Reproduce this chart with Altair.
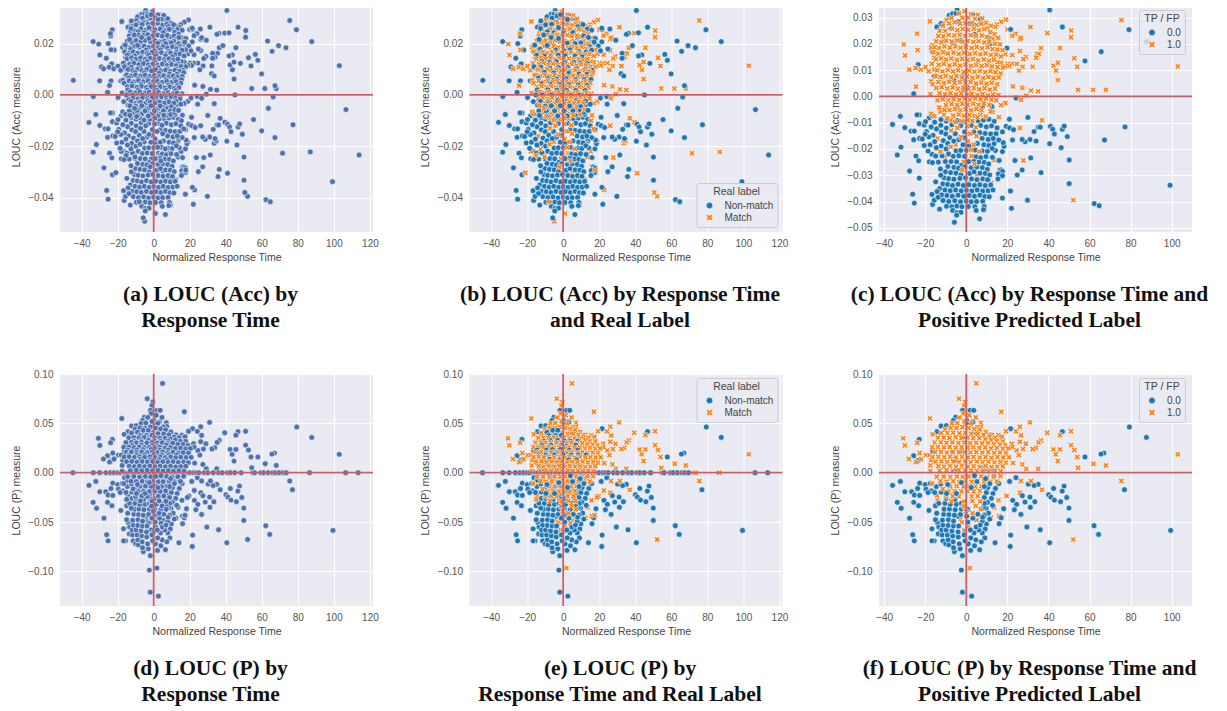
import altair as alt
import pandas as pd

# (x = normalized response time, y = measure in thousandths)
ACC_TP = [(19.3,29.2),(17,28.4),(14.9,27.4),(14.1,26.5),(31.2,26.4),(20,25.5),(39.4,24.1),(51.1,25.1),(51,22.5),(24,23.9),(22.4,23.1),(26.1,21.7),(26.6,22.3),(36.4,18.4),(45.6,18.4),(26.1,17.3),(19,16),(22.4,15.7),(34.4,16.2),(35.4,16.2),(34,14.7),(29,15),(27.8,14.2),(52.6,14.5),(42.4,11.7),(44.6,12.8),(54,11.3),(43.7,9.8),(32.3,11.3),(27.4,11.3),(25.6,9.8),(24.5,12.4),(22.2,12.4),(20.1,12.4),(21,11.5),(19,11.5),(16.9,12.8),(15.3,13),(44.6,6.2),(22.7,3.8),(27.3,3.3),(31.5,2.2),(35,1.9),(54.4,2.5),(61.7,2.5),(68,2.5),(29.2,0.3),(26.6,-1.3),(19,-2.5),(16.9,-3.3),(12.8,-6),(15.9,-7.9),(36.9,-9.1),(26.1,-12),(27.8,-24.4),(13.5,-24.2),(16,-28),(12.2,-32.9),(52.1,-39.5),(75.5,29),(103,11.4),(-17.7,28.6),(-24,23.9),(-30.5,19.8),(-29.9,15.6),(-23.7,17.6),(-27.8,10.2),(-24.7,10.8),(-22.2,10.2),(-19.8,11.2),(-18.3,9.6),(-24.5,3.7),(-16.4,19.5),(-17.2,18.5),(-17.5,0.8),(-17.2,5.8),(-16.4,4.6),(-15.6,10.3),(-15.6,14.7),(-14,-1.5),(-17.2,-6.6),(-15.6,-7.5),(-12.7,-5.8),(-14,-16),(-10.4,-23),(-5.2,-18.3),(-1.3,-24.9),(2.6,-22.7),(0.6,-32.9),(5.2,-29.7),
(-3.5,31.6),(-0.8,32.4),(2.3,31.2),(5.6,31),(7.8,29.7),(-7.2,29.8),(-9.6,29),(-1.9,29.9),(1,30),(4.2,29.5),(9.6,28),(12,26.9),(-11.3,26.9),(-8.4,27.8),(-5.7,28.2),(-3,27.6),(-0.5,27.9),(2.4,28),(5,27.2),(7.3,27.6),(10.2,26),(-13,25),(-10.3,24.9),(-7,25.8),(-4.4,25.2),(-1.7,25.7),(0.9,25.3),(3.7,25.7),(6.2,25.1),(8.7,25.6),(11.6,24.4),(13.8,23.7),(-13.6,23),(-11.1,22.8),(-8.6,23.4),(-5.8,23.2),(-3.2,23.5),(-0.6,23),(2.2,23.3),(4.8,22.9),(7.6,23.2),(10,22.6),(12.9,21.9),(15.5,22.3),(-14.7,21),(-12.2,20.6),(-9.7,21.2),(-7.1,20.9),(-4.6,21.3),(-1.8,20.8),(0.7,21.1),(3.4,20.7),(6,21),(8.8,20.5),(11.2,20.9),(13.9,20),(16.4,19.8),(-15.4,18.7),(-13.2,18.4),(-10.6,19),(-8,18.6),(-5.3,19),(-2.8,18.5),(-0.2,18.9),(2.6,18.4),(5.1,18.8),(7.7,18.3),(10.4,18.7),(12.8,18),(15.2,17.8),(17.7,17.6),(-16.1,16.8),(-13.7,16.2),(-11.3,16.8),(-8.9,16.3),(-6.2,16.7),(-3.6,16.2),(-1,16.6),(1.7,16.1),(4.3,16.5),(6.9,16),(9.4,16.4),(12,15.8),(14.6,15.9),(16.9,15.2),(-14.8,14.1),(-12.3,14.5),(-9.8,14),(-7.3,14.4),(-4.6,13.9),(-2,14.3),(0.6,13.8),(3.2,14.2),(5.8,13.7),(8.5,14.1),(11,13.6),(13.4,14),(-16.8,12.4),(-13.4,12),(-10.9,12.4),(-8.2,11.8),(-5.6,12.2),(-3,11.7),(-0.4,12.1),(2.2,11.6),(4.8,12),(7.4,11.5),(10,11.9),(12.5,11.4),(15.2,11.1),(17.8,11),(-14.2,9.9),(-11.6,9.5),(-9,10),(-6.5,9.5),(-3.9,9.9),(-1.2,9.4),(1.4,9.8),(4,9.4),(6.6,9.7),(9.2,9.2),(11.8,9.6),(14.2,9.2),(16.7,8.7),(-15,7.8),(-12.5,7.4),(-10,7.8),(-7.4,7.3),(-4.8,7.7),(-2.2,7.2),(0.4,7.6),(3,7.1),(5.6,7.5),(8.2,7),(10.8,7.4),(13.3,7),(15.8,7.2),(-13.6,5.5),(-11,5.1),(-8.4,5.6),(-5.7,5.1),(-3.1,5.5),(-0.5,5),(2.1,5.4),(4.7,4.9),(7.3,5.3),(9.9,4.8),(12.4,5.2),(15,4.6),(-14.6,3.2),(-12,3.5),(-9.3,3),(-6.7,3.4),(-4.1,2.9),(-1.5,3.3),(1.1,2.8),(3.7,3.2),(6.3,2.7),(8.9,3.1),(11.5,2.6),(14,2.9),(-13,1.2),(-10.3,0.8),(-7.7,1.2),(-5,0.7),(-2.5,1.1),(0.2,0.6),(2.8,1),(5.4,0.5),(8,0.9),(10.6,0.4),(13,0.8),(15.6,0.5),(-11.4,-1.1),(-8.7,-1.5),(-6.1,-1),(-3.4,-1.4),(-0.8,-0.9),(1.8,-1.3),(4.4,-0.8),(7,-1.2),(9.6,-0.8),(12.2,-1.2),(14.6,-1.5),(-9.9,-3.3),(-7.2,-2.9),(-4.5,-3.3),(-1.9,-2.8),(0.7,-3.2),(3.4,-2.8),(6,-3.2),(8.6,-2.7),(11.2,-3.2),(-8.2,-5.2),(-5.5,-4.8),(-2.9,-5.3),(-0.3,-4.9),(2.4,-5.3),(5,-4.8),(7.4,-5.3),(-10.8,-7),(-6.4,-7.3),(-3.7,-6.9),(-1.1,-7.4),(1.5,-7),(4.1,-7.4),(6.8,-7),(-7.5,-9),(-2.2,-9.4),(3,-9.3),(0.5,-11.3),(4.6,-11.8),(-4.4,-12),(-7.3,-13),(1.9,-14.2),(5,-15.1),(-2.6,-15.4),(0.8,-17.1),(3.6,-18.4),(-7.6,-19.2),(-12.6,-21),(2.2,-20.4),(6.4,-21),(4,-25.7),(-2,-28),
(-9.4,-8.4),(-5.4,-9.8),(0.6,-9),(5.6,-7.9),(9.4,-7.6),(11.8,-5.7),(-13.2,-4.2),(-10.6,-5.2)]

ACC_FP = [(40.6,32.9),(46.8,26.4),(79.2,25.4),(87.7,20.8),(65.7,17),(57.8,13.5),(21.6,25.5),(11.4,22.1),(19.8,18.4),(11.5,19.8),(4.1,23.6),(3.1,31.2),(-4.5,32.9),(-8.3,30.8),(-6.6,31.5),(-5,31.6),(6.8,29.3),(3.4,27.4),(1.5,27.7),(-3.9,28.4),(-7.5,25.9),(-11.5,27.7),(-14.3,26.4),(-12.3,27.7),(-2.9,21.3),(-6.3,20.2),(-10.7,21),(-16.4,17),(-23.4,12.1),(-15.6,7.7),(-1.3,8.6),(-1.3,6.5),(-6,6.2),(-1.6,2.5),(0.8,3.3),(-25.6,1),(2.3,0.8),(24.2,-0.6),(-4.5,-3.9),(7.8,-3.9),(12.5,-3.9),(-22.9,-7),(-24,-7),(-32.1,-7.6),(-35.9,-10.7),(-29.9,-11.9),(-26.9,-13.2),(-25.3,-13.2),(-22.9,-10.4),(-20.5,-10.9),(-18,-8.1),(-16.4,-7.4),(-12.3,-8.8),(-31.8,-19.3),(-33.6,-22.3),(-24.5,-22.7),(-23.2,-24.5),(-27.6,-28.4),(-22.9,-31.1),(-26.1,-37.2),(-25.3,-40.6),(-25.6,-16.5),(-22.7,-16),(-20.5,-18.7),(-18,-24.9),(-16.7,-22),(-14.9,-22.7),(-13.6,-25),(-14.9,-32.5),(-16.7,-37.3),(-16.4,-41.1),(-15.6,-39.5),(-13,-42.9),
(40.6,-18),(41,-11.4),(42.1,-12.5),(42.9,-14.3),(46.8,-12.5),(47.7,-11.3),(49.2,-15.3),(46.2,-19.5),(50.1,-24.2),(50.1,-33.2),(62.3,-40.8),(64.7,-41.6),(99.2,-33.8),(77.3,-11.6),(67.3,-16.6),(36.4,-29),(29.8,-39.5),(22,-42.6),(21.5,-36),(17.6,-38.7),(31.4,-23.4),(27.2,-28),(24.8,-29.9),(23.7,-24.4),(34,-17),(31,-16.4),(28.6,-17.3),(27.2,-16.4),(22.5,-16.6),(33,-13.4),(35.1,-11.7),(36,-11.7),(30,-8),(21,-8.7),(19.4,-11.4),(21.1,-12),(23,-12.7),(17.6,-13.5),(16.8,-28),(17.6,-28.5),(15.6,-29.5),(17.6,-30.2),(15.4,-31.4),(16,-24.4),(17.6,-21),(18.4,-19),(18,-17.6),(15.8,-16.6),(13.5,-18),(14.2,-20.6),
(-4.3,-9.2),(-1,-9.6),(1.2,-8.8),(5.8,-9.3),(8.4,-9),(11,-8.7),(13.6,-9.5),(-15.4,-9.8),(-9.8,-9.4),(-7,-10.8),(-12.4,-11),(-14.5,-12.4),(-17.1,-11.6),(-9.7,-12.1),(-2.7,-11.1),(2.5,-11),(7,-11),(9.8,-11.6),(12.3,-11.2),(15,-12),(-12.1,-13.6),(-10,-14.3),(-5.4,-14.2),(-0.8,-13.5),(3.7,-13.5),(6.6,-13.8),(9.2,-14.1),(11.9,-14.3),(14.5,-14.2),(-16.2,-14.8),(-8,-15.7),(-3.7,-16.4),(-0.9,-15.8),(7.7,-16),(10.7,-16.4),(13.1,-16),(-11.2,-16.8),(-9,-17.9),(-6.1,-17),(-1.6,-18.4),(1.4,-18.8),(5.4,-17.9),(8.6,-18.4),(11,-18.7),(-12.3,-18.9),(-9.8,-20),(-5,-20.7),(-2.7,-20.6),(0.1,-20.5),(4.3,-20.4),(7.8,-20.7),(10.3,-20.9),(12.6,-19.8),(-11.8,-22.6),(-8.6,-21.9),(-6.3,-22.8),(-3.6,-22.6),(-0.8,-22.8),(4.8,-23),(7,-23.3),(9.6,-22.9),(12.7,-23.2),(-10.2,-24.8),(-7.4,-24.8),(-4.7,-24.9),(-2.4,-26.3),(1.2,-24.8),(3.7,-24.7),(6.1,-25),(8.7,-25.1),(10.9,-25.7),(-9,-26.7),(-6,-27),(-3.8,-27.3),(-0.7,-26.8),(2.4,-27.1),(5.1,-26.9),(7.8,-27.1),(10.2,-27.8),(-10.1,-28.7),(-7.6,-29),(-5,-29.2),(-2.6,-29.9),(1.7,-29.3),(3.8,-28.7),(6.7,-29.2),(9.2,-29.3),(11.4,-29.9),(-10.7,-31),(-8.6,-31.3),(-6,-31.5),(-3.1,-31.2),(-0.4,-31),(2.6,-31.4),(5.2,-31.7),(8,-31.4),(10.4,-31.7),(-11.4,-33.3),(-9.1,-33.5),(-6.7,-33.9),(-4,-33.4),(-1.4,-33.9),(1.3,-33.6),(4,-33.9),(6.6,-33.6),(9.2,-33.9),(11.9,-33.7),(-13,-35.1),(-10.4,-35.6),(-7.8,-35.9),(-5.2,-35.6),(-2.5,-36),(0.1,-35.7),(2.7,-36),(5.3,-35.6),(8,-36),(10.6,-35.9),(13,-35.6),(-12,-37.5),(-9.4,-37.7),(-6.8,-38),(-4,-37.6),(-1.2,-38),(1.4,-37.7),(4,-38),(6.6,-37.6),(9,-38.1),(11.2,-38.2),(-11.3,-39.6),(-8.5,-40),(-5.6,-39.7),(-2.8,-40.1),(0,-39.8),(2.4,-40.1),(5,-40),(8,-39.9),(-9.6,-41.8),(-7,-42),(-4.6,-41.7),(-2.1,-42),(1,-41.9),(4.2,-42),(8.7,-41.9),(-6.6,-43.4),(-4.6,-44.2),(-2.6,-44.1),(4.8,-43.4),(8.4,-43.1),(-4.7,-45.2),(-5.8,-47.9),(6.5,-46.6),
(-19.4,-13.4),(-18.2,-15.4),(-17.6,-18.4),(-15.4,-17.2),(-14.6,-19.5),(-18.6,-20.8),(-20,-14.4),(-21.4,-16.2),(-19.8,-9.6),(-16.5,-25.2),(-12.6,-27.6),(-12.4,-30),(-13.7,-38.4),(-14.2,-36.2)]

ACC_TN = [(-23,25.4),(-23.8,23),(-33.6,20.8),(-25.2,20),(-21.9,17.5),(-26.3,14.3),(-29,10.9),(-23.1,12.2),(-30,5.5),(-23.7,5.5),(-44.6,5.7),(-25.7,1),(-33.5,-0.6),(-18.3,5.5),(-19.8,-1),(25.9,25.7),(21.4,26),(41.8,24.2),(36.2,24),(35.1,23.6),(29.2,21.3),(38.4,19.2),(63.2,21),(69.3,19.2),(73.4,18.4),(56.4,15.8),(32.7,16.2),(32.7,14.3),(59.9,8.2),(32.1,8.3),(33.6,7.4),(67.3,3.6),(45.1,0),(66.3,-0.8),(33.6,-3.4),(24.4,-3.6),(20.7,-1.2),(48.1,12.3),(43.6,15.6),(41.8,15.2),(21.4,20.7),(19.4,19.1),(20.7,17.2),(24.8,17.9),(15.2,20.4),(106.7,-5.7),(114,-23.4),(55.4,-9.6),(59.9,-14),(35.7,-31.8),(63.6,-5.2),
(-9,30.4),(-6.2,29.9),(-3.4,30.8),(-12.4,28.8),(-9.8,27.3),(-6.4,27.5),(-1.5,31.3),(2.4,29.4),(8.2,26.6),(11,27.4),(13.3,25.6),(15.8,25.2),(-12.6,25.9),(-8.7,24.6),(-5.3,24.2),(-2.6,26.2),(0.2,24.2),(5.4,24.3),(8,22.5),(11.4,23),(14,22.4),(17.8,22),(-13.4,21.6),(-10.8,23.4),(-6.7,22.4),(-2.6,22),(2.2,20.2),(6.6,20),(9.8,20.3),(14.6,18.8),(17.2,20.6),(-15.8,19.4),(-12.8,17.8),(-8.9,19.3),(-4.2,17.5),(0.4,17.2),(3.8,17.6),(8.7,17),(12.6,16.7),(15.8,17.4),(-14.7,15.5),(-10.5,15.2),(-6.9,14.9),(-2.7,15.5),(1.4,15.2),(6.6,15.2),(10.4,14.9),(13.4,12.4),(-11.7,13),(-7.4,12.7),(-3.8,13),(0.9,12.6),(5.9,12.7),(9.4,12.5),(-16.2,11),(-12.4,10.8),(-7.4,10.4),(-2.6,10.6),(2.6,10.6),(7.5,10.2),(12.6,10),(16.2,9.6),(-10.4,8.8),(-5.2,8.6),(3,8.5),(8.8,8.2),(13,8.1),(-13.8,6.6),(-8.6,6.4),(-3.4,6.2),(1.7,6.3),(6.9,6),(11.7,6),(15.4,6),(-12,4.4),(-7,4.2),(-2,4.1),(3.2,4),(8.3,3.9),(13.2,3.7),(-14.4,2),(-8.5,2),(-3.4,1.9),(1.9,1.8),(7,1.8),(12.2,1.7),(-15.2,0),(-11.7,0),(-6.4,0),(-1.3,-0.2),(4,-0.2),(9,-0.1),(14.7,-0.4),(-16.6,-2.6),(-12.6,-2.5),(-8,-2.6),(-3,-2.2),(2,-2.4),(7.4,-2.2),(12.4,-2.4),(-14.2,-4),(-10,-4.4),(-6.6,-4.2),(-1.6,-4.2),(3.6,-4.3),(9.8,-4.6),(15,-3.6),(-13.5,-6.2),(-9.3,-6.4),(-4.8,-6.2),(0.4,-6.2),(5.4,-6.2),(9.2,-6.3),(12,-7.6),(-13.2,-8),(-8.8,-8.1),(-3,-8.2),(2.2,-8.2),(7,-8),(11.6,-6.8),(13.8,-6)]

ACC_FN = [(86.9,-22.2),(71.5,-22.7),(63.8,-5.3),(39.5,-10.6),(41,-30.5),(22.7,-37),(33.6,-18.8),(34.6,-17.9),(50.6,-38),(-21,-30.3),(-18,-22),(19,-18.4),(15.2,-22),(12.5,-18.8),(8.8,-21.6),(11.4,-33),(8.8,-32.6),(-2.5,-37.2),(3.7,-23.3),(0.8,-29.8),(-6.8,-27.6),(9.3,-42.9),(0.9,-46.2),(-5,-49.2),(-10.4,-24.2),(-15.3,-23.6),(16.7,-13.2),(15.4,-10),(17.8,-29.3),(-8,-41.6)]

P_TP = [(4.9,90.5),(-3.6,75),(-0.5,71.6),(-1,68),(17,61.8),(-17.7,55),(31,51),(26.1,46.6),(19.3,42),(51,42),(39.4,40.5),(45.6,38),(-30.7,34.8),(-29.9,27.7),(-23.9,30.4),(-22.7,20),(-27.9,13.9),(-24.5,10.8),(-22,13.9),(-19.6,17.9),(-18,17.9),(-16.4,38.9),(-17.2,12.5),(-17.5,1.7),(-17.5,7.4),(51,28),(52.6,23),(54,15.9),(54.4,5),(61.9,9.1),(68,7.4),(75.5,-8.4),(103,18.6),(42.4,23.6),(43.5,18.6),(45.6,23.6),(44.6,11.8),(36.4,32.8),(35.2,30.7),(33.9,25.3),(32.3,24),(29.2,4),(35,4),(27.3,8.4),(22.7,9.8),(25.6,17.9),(27.6,24),(24.5,22.6),(22.1,29.4),(22.4,26),(26.6,37.8),(26.1,31.4),(24.2,41.9),(29,29.4),(26.6,-8.4),(31.5,-8.4),(36.9,-17.2),(26.1,-20.3),(19.6,-23.6),(15.7,-28),(13.5,-35),(12,-45.6),(15.9,-43.9),(52.1,-67.6),(1.8,-96.6),(-1,-58.4),(-2.9,-47),(-14.3,-23),(-14,-28),(-10.7,-33),(-2.2,-50.2),(5,-48),(1,-54.6),
(-1.5,60),(-3.3,56),(1.4,58.2),(4.6,56),(7,50.6),(7.2,47),(-7,50),(-4.4,50.4),(-1,52),(2.3,50),(5.4,46.4),(-10.3,44),(-7.6,45.4),(-4.8,45.2),(-1.9,46.3),(1.2,45.2),(3.8,44.4),(6.6,43.4),(9.5,41.4),(12.4,38.4),(15.6,38),(17.4,36.4),(-12.2,40.2),(-9.2,40.4),(-6.4,40.6),(-3.4,40),(-0.6,40.4),(2.4,39.6),(5.6,39.2),(8.4,38.4),(11.3,36.2),(14,35.6),(-13.8,35.4),(-11,35.6),(-8.2,35.2),(-5.2,35.8),(-2.4,35.2),(0.6,35.6),(3.4,35),(6.3,34.8),(9.2,34.2),(12,33.2),(14.8,32),(17.8,31.8),(-15.4,30.6),(-12.4,30.8),(-9.6,30.2),(-6.8,30.8),(-3.8,30.2),(-1,30.6),(1.9,30),(4.8,30.4),(7.7,29.6),(10.6,30),(13.4,28.8),(16.3,28.6),(19,27.6),(-16.6,25.8),(-13.8,26),(-10.9,25.4),(-8.1,26),(-5.2,25.4),(-2.3,25.8),(0.6,25.2),(3.4,25.8),(6.3,25),(9.2,25.6),(12,24.6),(14.9,25),(17.8,24.2),(20.4,24.6),(-15.2,20.8),(-12.3,21),(-9.5,20.4),(-6.6,21),(-3.7,20.4),(-0.8,21),(2,20.4),(4.9,21),(7.8,20.2),(10.7,20.8),(13.6,20),(16.4,20.4),(19.3,19.8),(-16.4,16),(-13.6,16.2),(-10.7,15.6),(-7.9,16.2),(-5,15.6),(-2.1,16.2),(0.8,15.4),(3.6,16),(6.5,15.4),(9.4,16),(12.2,15.2),(15.1,15.8),(18,15.4),(20.8,15.6),(-15,11.2),(-12.1,11.4),(-9.3,10.8),(-6.4,11.4),(-3.5,10.8),(-0.6,11.4),(2.2,10.6),(5.1,11.2),(8,10.6),(10.8,11.2),(13.7,10.4),(16.6,11),(19.2,10.2),(-13.6,6.6),(-10.8,6.2),(-7.9,6.8),(-5,6.2),(-2.1,6.8),(0.8,6),(3.6,6.6),(6.5,6),(9.4,6.6),(12.2,5.8),(15.1,6.2),(17.8,6.6),(-13,2),(-9.6,2.6),(-6.6,2),(-3.6,2.6),(-0.6,2),(2.4,2.4),(5.2,1.8),(8.2,2.2),(11,1.6),(14,2),(16.8,1.6),(-14.4,-4),(-11,-3.8),(-7.8,-4.4),(-4.6,-3.8),(-1.7,-4.2),(1.2,-3.8),(4.2,-4.4),(7.2,-3.8),(10.2,-4.4),(13.4,-4),(16.6,-3.6),(-12.6,-8.6),(-9.6,-9),(-6.4,-8.6),(-3.4,-9.2),(-0.4,-8.8),(2.6,-9.2),(5.6,-8.6),(8.6,-9),(11.6,-9.2),(14.8,-8.8),(-16.6,-11),(-7.8,-14),(-4.6,-13.6),(-1.4,-14),(1.4,-13.6),(4.4,-14),(7.4,-13.6),(-11.4,-16.4),(-8.6,-19),(-5.6,-18.6),(-2.4,-19),(0.6,-18.6),(3.6,-19),(6.6,-18.4),(-10,-24),(-6.6,-23.6),(-3.6,-24),(2.6,-24),(5.6,-23.6),(-7.4,-28.6),(-1,-29),(3,-28.6),(6.8,-29),(-1.2,-34),(4.6,-33.6),(-0.2,-39),(3,-41),(7,-37)]

P_FP = [(79.4,46.3),(87.7,35.8),(46.8,41.6),(21.6,44.6),(99.5,-58.4),(77,-17.2),(67,19.9),(65.6,18.9),(57.8,15.9),(-22.9,33.8),(-25.6,17.2),(-23.4,12.5),(-16.4,22),(-14.3,41.6),(-12.3,47.3),(-9.7,47.6),(-1.8,63.2),(1.9,63.2),(3.6,63.2),(-5.2,56.4),(-6.2,53),(0.2,53),(0.2,49.7),(3.2,51.4),(5,40.2),(11.7,38.2),(-1.8,35.5),(-6.7,21),(-2.9,22),(-6.2,13.2),(-4.9,13.2),(-4.9,4),(7.8,4),(9.9,4),(12.5,4),(24.2,-5),(21.1,-8.8),(30.2,-11.5),(35,-11.8),(33,-13),(47.6,-13.5),(42.5,-15.9),(46.7,-18.6),(40.1,-22.3),(41.2,-24.7),(42.9,-27.7),(45.9,-29.4),(48.9,-25),(50,-35.8),(50,-48.3),(27.3,-23.3),(31,-24.7),(22.6,-28),(24.5,-32),(28.6,-29.7),(33.4,-29.4),(31.2,-35),(23.4,-37.5),(26.6,-42.2),(18.2,-36.5),(17,-45.6),(16,-51.7),(29.5,-55),(36,-57.8),(21.6,-63.2),(21.4,-74.7),(14,-70.9),(40.6,-70.9),(62.2,-53.7),(64.4,-62.5),(6.5,-78),(2.1,-78.7),(-1.9,-84),(-2.4,-98.6),(-1.9,-121),(2.6,-125),(-5.8,-80),(-26.1,-62.8),(-25.3,-69),(-27.6,-46),(-31.7,-36),(-33.6,-30),(-32.1,-8.8),(-35.9,-12.8),(-29.9,-19.3),(-26.6,-19.3),(-25.3,-22.6),(-25.6,-30),(-23.2,-33.4),(-22.7,-23),(-22.7,-10.5),(-23.7,-16),(-16.7,-56.8),(-15.6,-69),(-16.7,-69),(-14,-50.7),(-18.2,-38.2),
(-20,-12),(-17.5,-10.8),(-19.6,-16.6),(-17,-18.4),(-14.6,-14),(-12.4,-11.4),(-15.4,-20),(-18.6,-20),(-12.2,-19.6),(-15,-33.4),(-13.4,-31),(-14.4,-41),(-15,-47.6),(-13.4,-55),(-13.6,-62),(-11.4,-69),(-10,-72),(-8.5,-73),(13.5,-3.6),(15.8,-11),(14.2,-16),(13,-21),(12.2,-26),(10.4,-30),(12.8,-33),(9.6,-36),(10.8,-41),(8.8,-43),(11.4,-47),(9.8,-52),(7.8,-49),(9.2,-57),(7.8,-61),(9,-66),(7.3,-70),(4,-74),(1,-72),(4.7,-68),(-3,-77),(-6.2,-76),(-8.8,-68),(-6.4,-70),(-3.4,-72),(-0.6,-69),(2.2,-66),(-11.8,-63),(-9.2,-63),(-6.6,-64),(-3.9,-65),(-1,-63),(3.8,-61),(6.2,-58),(-12,-58),(-9.8,-58),(-7,-59),(-4,-60),(2,-58),(4.8,-55),(-11.4,-53),(-8.8,-53.4),(-6.2,-54),(-3.7,-54),(6.8,-53),(-11.6,-48),(-8.7,-47.6),(-6.2,-49),(-4.2,-44),(0.8,-50),(3.2,-46),(8,-45),(-11,-42),(-8.4,-42.4),(-5.8,-43),(-2.8,-42.2),(0.2,-44),(5.6,-42),(-10.8,-37),(-8.2,-36.8),(-5.4,-37.4),(-2.4,-36.8),(0.6,-37),(8.4,-35),(-10.4,-31),(-7.8,-32),(-4.8,-32),(-2.4,-31),(8.9,-31),(-9.8,-26),(-5.6,-27),(8.8,-25),(9.8,-20),(10.5,-15),(11.5,-11),(8.8,-14),(2.4,-15),(-9.6,-21),(-4.8,-21),(-2.4,-10),(-9,-12),(5.2,-9),(4,-3),(9.4,-6)]

P_TN = [(-36,-13),(-44.8,0),(-33.5,0),(-30,0),(-26.5,0),(-24,0),(-22,0),(-20,0),(-18.5,0),(-16,0),(-14,0),(-12,0),(-10,0),(-8,0),(-6,0),(-4,0),(-2,0),(0,0),(2,0),(4,0),(6,0),(8,0),(10,0),(12,0),(14,0),(16,0),(18,0),(20,0),(22,0),(23.5,0),(25,0),(28,0),(30,0),(33,0),(36,0),(38,0),(41,0),(42.5,0),(45,0),(48.5,0),(55,0),(56,0),(59.5,0),(61,0),(63.5,0),(66,0),(67.5,0),(69.5,0),(106.5,0),(113.5,0),
(-9,41),(-5.8,43),(-3,43),(-7.8,37.6),(-4.2,37.8),(-1,38),(-11,32),(-7,32.6),(-3,32.8),(0.6,32),(4,32),(8,32),(-12,27.6),(-6.8,28),(-1,27.6),(2,27),(7,28),(-14.4,23),(-9.4,23),(-6,23.4),(-1.4,23.6),(3.4,23),(8,23),(-13.6,18.4),(-9.6,18),(-5,18),(0,18.4),(4.4,18),(8.4,18),(12.6,18),(-11,13.4),(-7.4,13.6),(-1.8,13),(3,13),(7.4,13),(-14,8.6),(-8.6,8.4),(-3.4,8.2),(1.8,8.6),(7,8.2),(-11.5,4),(-6.4,4),(-1.4,4.6),(3.6,4.2),
(-16.2,-5),(-11.4,-6),(-5.6,-6),(-1.6,-6.4),(3.2,-6.2),(7.6,-6.4),(12,-6.8),(-14.4,-8),(-7.4,-11.4),(-2.7,-12),(0.6,-11.4),(3.6,-11),(6.4,-11.6),(-10,-16),(-5.4,-16),(-0.4,-16),(5,-16),(8.4,-17),(-7.4,-21.6),(-2.2,-21.6),(2,-21),(7,-21),(-12,-26),(-7.6,-26),(-2,-26.4),(1.2,-26.4),(6.4,-26),(-12.4,-36),(-1,-30),(1.4,-32),(5,-31),(7,-34),(4,-37),(1.4,-42),(-1,-46)]

P_FN = [(71.5,0),(86.5,0),(73.5,0),(-6.2,-33),(-11.4,-34),(-2,-40),(1.4,-48),(4,-51),(12.4,-46),(-3,-51),(-1.4,-58),(-4.4,-47),(0,-60),(17.4,-43),(0,-27),(-15,-27),(4,-38),(-4,-44),(7,-11.6),(18.7,-25),(22.5,-18)]

BLUE = "#4c72b0"
TAB_BLUE = "#1f77b4"
TAB_ORANGE = "#ff7f0e"
RED = "#cf5b63"
X_PATH = "M-1,-0.5L-0.5,-1L0,-0.5L0.5,-1L1,-0.5L0.5,0L1,0.5L0.5,1L0,0.5L-0.5,1L-1,0.5L-0.5,0Z"

X_WIDE = [-40, -20, 0, 20, 40, 60, 80, 100, 120]
X_NARROW = [-40, -20, 0, 20, 40, 60, 80, 100]
Y_ACC_WIDE = [-0.04, -0.02, 0.0, 0.02]
Y_ACC_NARROW = [-0.05, -0.04, -0.03, -0.02, -0.01, 0.0, 0.01, 0.02, 0.03]
Y_P = [-0.10, -0.05, 0.0, 0.05, 0.10]
DOM_X_WIDE = [-52, 121.7]
DOM_X_NARROW = [-42.5, 109.9]
DOM_Y_ACC_WIDE = [-0.0534, 0.0366]
DOM_Y_ACC_NARROW = [-0.0516, 0.0363]
DOM_Y_P = [-0.135, 0.1]


def frame(groups):
    rows = []
    for name, points in groups:
        n = len(points)
        for i, (x, y) in enumerate(points):
            rows.append({"x": x, "y": y / 1000, "group": name, "key": i / n})
    return pd.DataFrame(rows).sort_values("key", kind="stable").drop(columns="key")


ACC = frame([("TN", ACC_TN), ("FP", ACC_FP), ("TP", ACC_TP), ("FN", ACC_FN)])
P = frame([("TN", P_TN), ("FP", P_FP), ("TP", P_TP), ("FN", P_FN)])


def panel(data, ytitle, ydom, yticks, xdom, xticks, caption, dx, mode=None, legend_pos=None, height=231):
    data = data.copy()
    if mode == "real":
        data["cat"] = data["group"].map({"TN": "Non-match", "FP": "Non-match", "TP": "Match", "FN": "Match"})
        domain, ltitle = ["Non-match", "Match"], "Real label"
    elif mode == "pred":
        data = data[data["group"].isin(["TP", "FP"])].copy()
        data["cat"] = data["group"].map({"FP": "0.0", "TP": "1.0"})
        domain, ltitle = ["0.0", "1.0"], "TP / FP"

    x = alt.X("x:Q", title="Normalized Response Time",
              scale=alt.Scale(domain=xdom, nice=False, zero=False),
              axis=alt.Axis(values=xticks, tickCount=len(xticks), format="d", grid=True, gridColor="white", gridWidth=1,
                            domain=False, ticks=False, labelColor="#555555", labelFont="Liberation Sans",
                            labelFontSize=10, labelPadding=6, labelOverlap=False, titleFont="Liberation Sans",
                            titleFontSize=10.5, titleFontWeight="normal", titleColor="#444444", titlePadding=4))
    y = alt.Y("y:Q", title=ytitle,
              scale=alt.Scale(domain=ydom, nice=False, zero=False),
              axis=alt.Axis(values=yticks, tickCount=len(yticks), format=".2f", grid=True, gridColor="white", gridWidth=1,
                            domain=False, ticks=False, labelColor="#555555", labelFont="Liberation Sans",
                            labelFontSize=10, labelPadding=7, labelOverlap=False, titleFont="Liberation Sans",
                            titleFontSize=10.5, titleFontWeight="normal", titleColor="#444444", titlePadding=9,
                            minExtent=30, maxExtent=30))

    if mode is None:
        points = alt.Chart(data).mark_point(filled=True, shape="circle", size=34, color=BLUE, opacity=1,
                                            stroke="white", strokeWidth=0.6).encode(x=x, y=y)
    else:
        legend = alt.Legend(title=ltitle, orient="none", legendX=legend_pos[0], legendY=legend_pos[1],
                            fillColor="rgba(234,234,242,0.8)", strokeColor="#cccccc", cornerRadius=2,
                            padding=4, titleFont="Liberation Sans", titleFontSize=10.5, titleFontWeight="normal",
                            titleColor="#444444", titleAnchor="middle", labelFont="Liberation Sans",
                            labelFontSize=10, labelColor="#444444", labelOffset=10, symbolSize=45,
                            symbolOffset=4, rowPadding=2, titlePadding=3, symbolStrokeColor="white",
                            symbolStrokeWidth=0.6)
        points = alt.Chart(data).mark_point(filled=True, size=34, opacity=1, stroke="white",
                                            strokeWidth=0.6).encode(
            x=x, y=y,
            color=alt.Color("cat:N", scale=alt.Scale(domain=domain, range=[TAB_BLUE, TAB_ORANGE]), legend=legend),
            shape=alt.Shape("cat:N", scale=alt.Scale(domain=domain, range=["circle", X_PATH]), legend=legend),
        )
    vline = alt.Chart(pd.DataFrame({"v": [0]})).mark_rule(color=RED, strokeWidth=1.8).encode(x="v:Q")
    hline = alt.Chart(pd.DataFrame({"v": [0]})).mark_rule(color=RED, strokeWidth=1.8).encode(y="v:Q")
    return alt.layer(points, vline, hline).properties(
        width=313, height=height,
        title=alt.TitleParams(text=caption, orient="bottom", anchor="middle", font="Liberation Serif",
                              fontWeight="bold", fontSize=21.5, lineHeight=26.5, color="#111111",
                              offset=21, dx=dx),
    )


charts = [
    panel(ACC, "LOUC (Acc) measure", DOM_Y_ACC_WIDE, Y_ACC_WIDE, DOM_X_WIDE, X_WIDE,
          ["(a) LOUC (Acc) by", "Response Time"], -6),
    panel(ACC, "LOUC (Acc) measure", DOM_Y_ACC_WIDE, Y_ACC_WIDE, DOM_X_WIDE, X_WIDE,
          ["(b) LOUC (Acc) by Response Time", "and Real Label"], -6, "real", (227, 182)),
    panel(ACC[ACC["x"].abs() < 105], "LOUC (Acc) measure", DOM_Y_ACC_NARROW, Y_ACC_NARROW, DOM_X_NARROW, X_NARROW,
          ["(c) LOUC (Acc) by Response Time and", "Positive Predicted Label"], -6, "pred", (260, 9)),
    panel(P, "LOUC (P) measure", DOM_Y_P, Y_P, DOM_X_WIDE, X_WIDE,
          ["(d) LOUC (P) by", "Response Time"], -6, height=232),
    panel(P, "LOUC (P) measure", DOM_Y_P, Y_P, DOM_X_WIDE, X_WIDE,
          ["(e) LOUC (P) by", "Response Time and Real Label"], -6, "real", (227, 4), height=232),
    panel(P[P["x"].abs() < 105], "LOUC (P) measure", DOM_Y_P, Y_P, DOM_X_NARROW, X_NARROW,
          ["(f) LOUC (P) by Response Time and", "Positive Predicted Label"], -6, "pred", (260, 4), height=232),
]

chart = alt.concat(*charts, columns=3, spacing={"column": 96.5, "row": 142}, bounds="flush").resolve_scale(
    color="independent", shape="independent"
).configure_view(fill="#eaeaf2", stroke=None).properties(
    background="white", padding={"left": 3, "top": -8, "right": 0, "bottom": 0}
)
chart.save("out.html", embed_options={"renderer": "svg", "actions": False})
